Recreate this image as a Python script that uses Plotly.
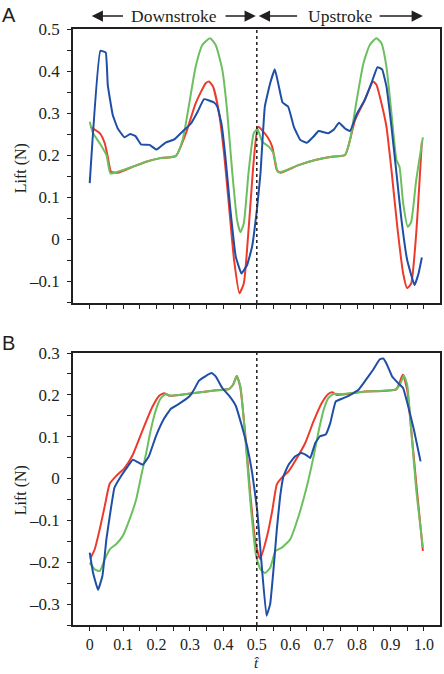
import plotly.graph_objects as go
from plotly.subplots import make_subplots

# ---------------- Panel A data ----------------
a_blue_t = [0, 0.032, 0.048, 0.054, 0.069, 0.084, 0.104, 0.121, 0.137, 0.154, 0.179, 0.2, 0.226, 0.253, 0.278,
            0.303, 0.323, 0.342, 0.372, 0.382, 0.395, 0.407, 0.42, 0.437, 0.454, 0.471, 0.486, 0.501, 0.511,
            0.524, 0.54, 0.554, 0.565, 0.577, 0.594, 0.611, 0.63, 0.65, 0.67, 0.685, 0.714, 0.73, 0.746, 0.764,
            0.779, 0.799, 0.823, 0.843, 0.861, 0.875, 0.888, 0.903, 0.918, 0.933, 0.95, 0.972, 0.984, 0.994]
a_blue_y = [0.133, 0.448, 0.444, 0.367, 0.295, 0.263, 0.242, 0.25, 0.245, 0.225, 0.224, 0.213, 0.229, 0.237, 0.256,
            0.275, 0.303, 0.333, 0.325, 0.315, 0.271, 0.188, 0.077, -0.042, -0.082, -0.062, -0.018, 0.075, 0.156,
            0.315, 0.371, 0.404, 0.367, 0.325, 0.315, 0.267, 0.236, 0.229, 0.244, 0.257, 0.252, 0.26, 0.277, 0.263,
            0.257, 0.297, 0.331, 0.371, 0.409, 0.404, 0.363, 0.267, 0.156, 0.045, -0.05, -0.11, -0.082, -0.044]

a_red_t = [0.002, 0.03, 0.045, 0.054, 0.064, 0.084, 0.129, 0.169, 0.208, 0.258, 0.288, 0.317, 0.347, 0.357, 0.369,
           0.387, 0.402, 0.417, 0.432, 0.448, 0.461, 0.476, 0.491, 0.504, 0.531, 0.546, 0.56, 0.571, 0.625, 0.675,
           0.724, 0.764, 0.794, 0.823, 0.848, 0.858, 0.873, 0.888, 0.903, 0.921, 0.938, 0.95, 0.962, 0.977, 0.994]
a_red_y = [0.267, 0.252, 0.228, 0.196, 0.16, 0.158, 0.172, 0.184, 0.192, 0.198, 0.252, 0.323, 0.371, 0.375, 0.363,
           0.3, 0.204, 0.077, -0.05, -0.129, -0.106, 0.029, 0.188, 0.267, 0.244, 0.22, 0.164, 0.158, 0.176, 0.188,
           0.196, 0.2, 0.283, 0.331, 0.375, 0.367, 0.323, 0.267, 0.164, 0.025, -0.082, -0.117, -0.106, 0.013, 0.232]

a_green_t = [0, 0.01, 0.03, 0.05, 0.062, 0.084, 0.129, 0.169, 0.208, 0.258, 0.278, 0.298, 0.317, 0.337, 0.36,
             0.377, 0.397, 0.411, 0.426, 0.441, 0.451, 0.461, 0.476, 0.491, 0.502, 0.516, 0.536, 0.55, 0.563,
             0.575, 0.625, 0.675, 0.724, 0.764, 0.779, 0.799, 0.819, 0.838, 0.858, 0.873, 0.888, 0.903, 0.918,
             0.927, 0.938, 0.952, 0.962, 0.977, 0.997]
a_green_y = [0.279, 0.252, 0.228, 0.2, 0.156, 0.16, 0.172, 0.184, 0.192, 0.198, 0.236, 0.323, 0.41, 0.462, 0.478,
             0.462, 0.402, 0.307, 0.164, 0.045, 0.016, 0.037, 0.164, 0.252, 0.262, 0.232, 0.22, 0.204, 0.16,
             0.16, 0.176, 0.188, 0.196, 0.2, 0.236, 0.331, 0.418, 0.462, 0.478, 0.466, 0.41, 0.299, 0.188,
             0.172, 0.085, 0.029, 0.041, 0.14, 0.242]

# ---------------- Panel B data ----------------
b_red_t = [0.002, 0.015, 0.03, 0.045, 0.06, 0.079, 0.104, 0.129, 0.159, 0.188, 0.208, 0.223, 0.238, 0.308, 0.367,
           0.417, 0.429, 0.44, 0.451, 0.466, 0.481, 0.496, 0.51, 0.531, 0.546, 0.56, 0.575, 0.595, 0.62, 0.645,
           0.67, 0.694, 0.714, 0.726, 0.739, 0.823, 0.917, 0.937, 0.95, 0.962, 0.977, 0.997]
b_red_y = [-0.191, -0.169, -0.121, -0.066, -0.012, 0.006, 0.025, 0.057, 0.117, 0.172, 0.198, 0.204, 0.198, 0.204,
           0.21, 0.214, 0.224, 0.245, 0.216, 0.101, -0.042, -0.153, -0.192, -0.137, -0.078, -0.014, 0.002, 0.017,
           0.049, 0.085, 0.137, 0.18, 0.202, 0.206, 0.2, 0.208, 0.213, 0.248, 0.212, 0.117, -0.01, -0.173]

b_green_t = [0, 0.015, 0.03, 0.045, 0.06, 0.079, 0.099, 0.119, 0.139, 0.154, 0.169, 0.183, 0.198, 0.213, 0.228,
             0.243, 0.308, 0.367, 0.417, 0.429, 0.44, 0.451, 0.466, 0.481, 0.498, 0.511, 0.524, 0.54, 0.556,
             0.575, 0.6, 0.625, 0.65, 0.67, 0.685, 0.7, 0.714, 0.729, 0.754, 0.823, 0.917, 0.93, 0.94, 0.95,
             0.962, 0.977, 0.997]
b_green_y = [-0.201, -0.217, -0.221, -0.193, -0.169, -0.157, -0.137, -0.098, -0.05, 0.006, 0.061, 0.117, 0.164,
             0.192, 0.202, 0.198, 0.204, 0.21, 0.214, 0.224, 0.245, 0.22, 0.093, -0.058, -0.185, -0.217, -0.226,
             -0.213, -0.173, -0.165, -0.145, -0.09, -0.018, 0.053, 0.113, 0.164, 0.192, 0.202, 0.202, 0.208,
             0.213, 0.227, 0.246, 0.224, 0.117, -0.026, -0.165]

b_blue_t = [0, 0.01, 0.025, 0.038, 0.05, 0.06, 0.074, 0.094, 0.114, 0.129, 0.144, 0.159, 0.177, 0.198, 0.223,
            0.243, 0.268, 0.298, 0.312, 0.327, 0.347, 0.365, 0.377, 0.397, 0.417, 0.437, 0.454, 0.471, 0.486,
            0.501, 0.514, 0.529, 0.54, 0.55, 0.56, 0.57, 0.58, 0.595, 0.615, 0.633, 0.65, 0.66, 0.675, 0.689,
            0.706, 0.72, 0.736, 0.759, 0.784, 0.804, 0.823, 0.848, 0.868, 0.878, 0.888, 0.905, 0.923, 0.938,
            0.952, 0.97, 0.99]
b_blue_y = [-0.177, -0.225, -0.266, -0.233, -0.145, -0.09, -0.022, 0.006, 0.029, 0.045, 0.039, 0.033, 0.053,
            0.101, 0.144, 0.167, 0.179, 0.196, 0.212, 0.234, 0.245, 0.252, 0.244, 0.216, 0.198, 0.174, 0.129,
            0.077, 0.014, -0.074, -0.201, -0.328, -0.3, -0.217, -0.121, -0.042, 0.006, 0.033, 0.053, 0.061,
            0.055, 0.049, 0.085, 0.101, 0.105, 0.133, 0.184, 0.192, 0.202, 0.212, 0.232, 0.26, 0.285, 0.287,
            0.275, 0.244, 0.228, 0.216, 0.176, 0.117, 0.041]

x_tickvals = [0, 0.1, 0.2, 0.3, 0.4, 0.5, 0.6, 0.7, 0.8, 0.9, 1.0]
x_ticktext = ["0", "0.1", "0.2", "0.3", "0.4", "0.5", "0.6", "0.7", "0.8", "0.9", "1.0"]
a_y_tickvals = [-0.1, 0, 0.1, 0.2, 0.3, 0.4, 0.5]
a_y_ticktext = ["–0.1", "0", "0.1", "0.2", "0.3", "0.4", "0.5"]
b_y_tickvals = [-0.3, -0.2, -0.1, 0, 0.1, 0.2, 0.3]
b_y_ticktext = ["–0.3", "–0.2", "–0.1", "0", "0.1", "0.2", "0.3"]

RED = "#ec3b2c"
GREEN = "#6cbf5f"
BLUE = "#1f4ea6"
INK = "#231f20"
SERIF = "Liberation Serif, Times New Roman, serif"

W, H = 444, 674
ML, MR, MT, MB = 73, 2, 29, 49
PH = H - MT - MB

def py2paper(py):
    return 1 - (py - MT) / PH

fig = make_subplots(rows=2, cols=1, shared_xaxes=False)
fig.update_layout(
    yaxis=dict(domain=[py2paper(303), 1.0]),
    yaxis2=dict(domain=[0.0, py2paper(353)]),
)

def add(row, t, y, color, smooth=0.5):
    fig.add_trace(go.Scatter(x=t, y=y, mode="lines",
                             line=dict(color=color, width=2, shape="spline", smoothing=smooth),
                             showlegend=False, hoverinfo="skip"), row=row, col=1)

add(1, a_red_t, a_red_y, RED)
add(1, a_green_t, a_green_y, GREEN)
add(1, a_blue_t, a_blue_y, BLUE, 0.3)
add(2, b_red_t, b_red_y, RED)
add(2, b_green_t, b_green_y, GREEN)
add(2, b_blue_t, b_blue_y, BLUE, 0.3)

xr = [-0.05, -0.05 + (W - ML - MR) / 336]
common_x = dict(range=xr, showgrid=False, zeroline=False, showline=True, linecolor=INK, linewidth=1.5,
                mirror=True, ticks="outside", ticklen=4, tickwidth=1, tickcolor=INK,
                tickvals=x_tickvals, ticktext=x_ticktext, ticklabelstandoff=0,
                minor=dict(tickvals=[0.05 + 0.1 * i for i in range(10)], ticks="outside", ticklen=4,
                           tickwidth=1, tickcolor=INK),
                tickfont=dict(family=SERIF, size=16, color=INK))
fig.update_xaxes(**common_x)
fig.update_xaxes(showticklabels=False, row=1, col=1)

common_y = dict(showgrid=False, zeroline=False, showline=True, linecolor=INK, linewidth=1.5,
                mirror=True, ticks="outside", ticklen=4, tickwidth=1, tickcolor=INK,
                ticklabelstandoff=4,
                tickfont=dict(family=SERIF, size=17, color=INK))
fig.update_yaxes(**common_y)
fig.update_yaxes(range=[-0.1 - 22 / 420, 0.5], tickvals=a_y_tickvals, ticktext=a_y_ticktext,
                 minor=dict(tickvals=[-0.15 + 0.1 * i for i in range(7)], ticks="outside", ticklen=4,
                            tickwidth=1, tickcolor=INK),
                 row=1, col=1)
fig.update_yaxes(range=[-0.35, 0.3], tickvals=b_y_tickvals, ticktext=b_y_ticktext,
                 minor=dict(tickvals=[-0.35 + 0.1 * i for i in range(7)], ticks="outside", ticklen=4,
                            tickwidth=1, tickcolor=INK),
                 row=2, col=1)

# dotted vertical lines at t = 0.5
for xref, yref in [("x", "y domain"), ("x2", "y2 domain")]:
    fig.add_shape(type="line", x0=0.5, x1=0.5, y0=0, y1=1, xref=xref, yref=yref,
                  line=dict(color=INK, width=1.5, dash="dot"))

ann = []
# panel letters
ann.append(dict(text="A", x=(0 - ML) / (W - ML - MR), y=py2paper(15), xref="paper", yref="paper",
                xanchor="left", yanchor="middle", showarrow=False,
                font=dict(family="Liberation Sans, Arial, sans-serif", size=20, color=INK)))
ann.append(dict(text="B", x=(0 - ML) / (W - ML - MR), y=py2paper(343), xref="paper", yref="paper",
                xanchor="left", yanchor="middle", showarrow=False,
                font=dict(family="Liberation Sans, Arial, sans-serif", size=20, color=INK)))
# y titles
for pyc in [168, 490]:
    ann.append(dict(text="Lift (N)", x=(21 - ML) / (W - ML - MR), y=py2paper(pyc), xref="paper", yref="paper",
                    textangle=-90, showarrow=False, xanchor="center", yanchor="middle",
                    font=dict(family=SERIF, size=16, color=INK)))
# x title
ann.append(dict(text="<i>t̂</i>", x=0.5, xref="x2", y=py2paper(673), yref="paper", showarrow=False,
                xanchor="center", yanchor="bottom", font=dict(family=SERIF, size=15, color=INK)))
# stroke labels
yt = py2paper(16)
ann.append(dict(text="Downstroke", x=0.252, xref="x", y=yt, yref="paper", showarrow=False,
                xanchor="center", yanchor="middle", font=dict(family=SERIF, size=17.5, color=INK)))
ann.append(dict(text="Upstroke", x=0.75, xref="x", y=yt, yref="paper", showarrow=False,
                xanchor="center", yanchor="middle", font=dict(family=SERIF, size=17.5, color=INK)))
# arrows: (head, tail) in t units
arrows = [(0.006, 0.104), (0.497, 0.402), (0.506, 0.625), (0.997, 0.863)]
for head, tail in arrows:
    ann.append(dict(text="", x=head, y=yt, xref="x", yref="paper", ax=tail, ay=0, axref="x", ayref="pixel",
                    showarrow=True, arrowhead=2, arrowsize=1.5, arrowwidth=1.5, arrowcolor=INK))

fig.update_layout(annotations=ann, width=W, height=H, margin=dict(l=ML, r=MR, t=MT, b=MB),
                  paper_bgcolor="white", plot_bgcolor="white", showlegend=False)

fig.write_html("out.html")
